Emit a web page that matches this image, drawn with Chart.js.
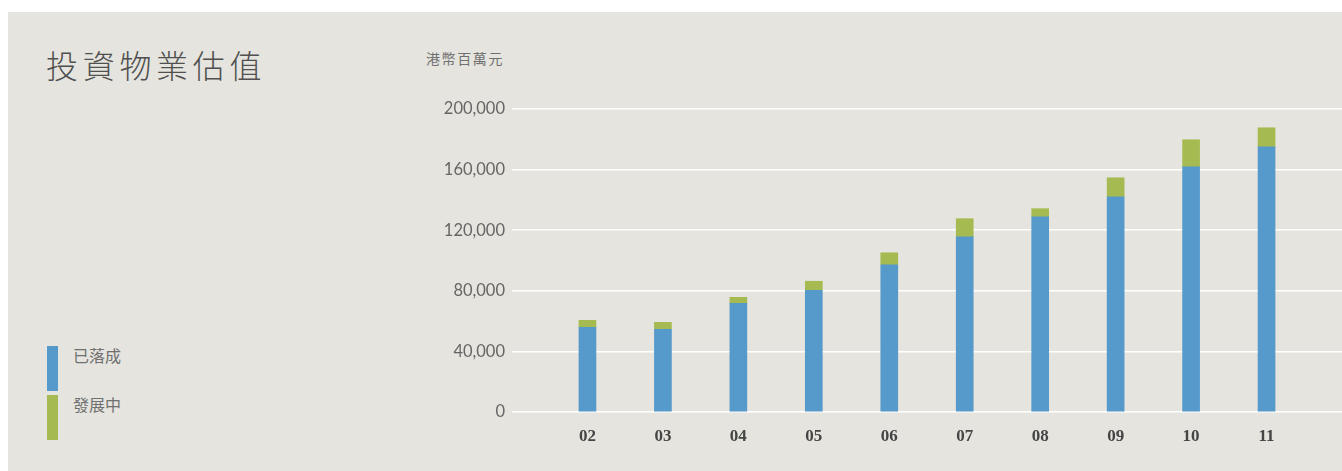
<!DOCTYPE html>
<html lang="zh-Hant">
<head>
<meta charset="utf-8">
<script src="https://cdn.jsdelivr.net/npm/chart.js@4"></script>
<style>
  html, body { margin: 0; padding: 0; background: #fff; overflow: hidden; }
  #panel {
    position: absolute; left: 8px; top: 12px; width: 1334px; height: 459px;
    background: #e5e4de;
  }
  #title {
    position: absolute; left: 46px; top: 41px;
    font-family: "Noto Sans CJK TC", sans-serif; font-weight: 300;
    font-size: 32px; letter-spacing: 4.7px; color: #505050;
    white-space: nowrap;
  }
  #unit {
    position: absolute; left: 426px; top: 48px;
    font-family: "Noto Sans CJK TC", sans-serif; font-size: 14px;
    letter-spacing: 1.6px; color: #707070; white-space: nowrap;
  }
  #legend { position: absolute; left: 47px; top: 346px; }
  .item { position: relative; height: 49px; width: 200px; }
  .swatch { position: absolute; left: 0; top: 0; width: 11px; height: 45px; }
  .lbl {
    position: absolute; left: 26px; top: -3px; white-space: nowrap;
    font-family: "Noto Sans CJK TC", sans-serif; font-size: 16px; color: #707070;
  }
  #wrap { position: absolute; left: 400px; top: 40px; width: 942px; height: 431px; }
</style>
</head>
<body>
<div id="panel"></div>
<div id="title">投資物業估值</div>
<div id="unit">港幣百萬元</div>
<div id="legend"></div>
<div id="wrap"><canvas id="chart"></canvas></div>
<script>
// 年份（20xx）
const years = ["02", "03", "04", "05", "06", "07", "08", "09", "10", "11"];
// 港幣百萬元
const completed = [55900, 54600, 71700, 80300, 97200, 115700, 128900, 142100, 161900, 175100];
const developing = [4600, 4600, 4000, 6000, 7900, 11900, 5300, 12500, 17800, 12500];
const seriesNames = ["已落成", "發展中"];
const seriesColors = ["#5699cb", "#a5bb51"];
const yTicks = [0, 40000, 80000, 120000, 160000, 200000];

// 凡例
const legendEl = document.getElementById("legend");
seriesNames.forEach((name, i) => {
  const item = document.createElement("div");
  item.className = "item";
  item.innerHTML = `<div class="swatch" style="background:${seriesColors[i]}"></div><div class="lbl">${name}</div>`;
  legendEl.appendChild(item);
});

const toPoints = (arr) => arr.map((v, i) => ({ x: i, y: v }));

const ctx = document.getElementById("chart").getContext("2d");
new Chart(ctx, {
  type: "bar",
  data: {
    datasets: [
      {
        label: seriesNames[0],
        data: toPoints(completed),
        backgroundColor: seriesColors[0],
        barThickness: 17,
        borderWidth: 0
      },
      {
        label: seriesNames[1],
        data: toPoints(developing),
        backgroundColor: seriesColors[1],
        barThickness: 17,
        borderWidth: 0
      }
    ]
  },
  options: {
    animation: false,
    responsive: true,
    maintainAspectRatio: false,
    layout: { padding: { top: 69, bottom: 27, right: 0, left: 0 } },
    plugins: {
      legend: { display: false },
      tooltip: { enabled: false }
    },
    scales: {
      x: {
        type: "linear",
        stacked: true,
        offset: false,
        min: -1,
        max: 10,
        afterFit: (scale) => {
          scale.height = 32;
          scale.paddingLeft = 0;
          scale.paddingRight = 0;
        },
        grid: { display: false, drawTicks: false },
        border: { display: false },
        ticks: {
          stepSize: 1,
          autoSkip: false,
          maxRotation: 0,
          padding: 14,
          color: "#454545",
          font: { family: "Liberation Serif", size: 17, weight: "bold" },
          callback: (v) => years[v] ?? ""
        }
      },
      y: {
        stacked: true,
        min: 0,
        max: 200000,
        afterFit: (scale) => { scale.width = 112; },
        afterBuildTicks: (scale) => { scale.ticks = yTicks.map((v) => ({ value: v })); },
        grid: { color: "#ffffff", lineWidth: 1.6, drawTicks: false },
        border: { display: false },
        ticks: {
          padding: 7,
          color: "#666666",
          font: { family: "Lato", size: 16.5 },
          callback: (v) => v.toLocaleString("en-US")
        }
      }
    }
  }
});
</script>
</body>
</html>
